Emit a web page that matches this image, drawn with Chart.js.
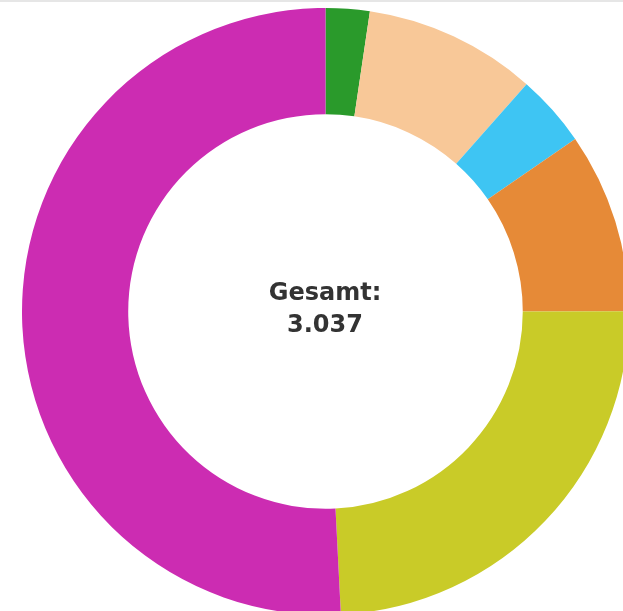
<!DOCTYPE html>
<html lang="de">
<head>
    <meta charset="UTF-8">
    <title>Gesamt</title>
    <script src="https://cdn.jsdelivr.net/npm/chart.js"></script>
    <style>
        html, body {
            margin: 0;
            padding: 0;
            width: 623px;
            height: 611px;
            overflow: hidden;
            background: #fff;
        }
        .top-rule {
            position: absolute;
            left: 0;
            top: 0;
            width: 623px;
            height: 2px;
            background: #e6e6e6;
        }
        .chart-wrap {
            position: absolute;
            left: 22px;
            top: 8px;
            width: 607px;
            height: 607px;
        }
        .center-label {
            position: absolute;
            left: 225px;
            top: 276px;
            width: 200px;
            text-align: center;
            font-family: "DejaVu Sans", sans-serif;
            font-weight: 700;
            font-size: 24px;
            line-height: 32px;
            color: #333;
        }
    </style>
</head>
<body>
    <div class="top-rule"></div>
    <div class="chart-wrap">
        <canvas id="totalDonut" width="607" height="607"></canvas>
    </div>
    <div class="center-label">Gesamt:<br>3.037</div>

    <script>
        // Segments, clockwise from the top
        const categories = ['A', 'B', 'C', 'D', 'E', 'F'];
        const counts = [71, 279, 117, 292, 735, 1543];
        const segmentColors = ['#2a9a2b', '#f8c898', '#3ec5f3', '#e68a37', '#c9cb28', '#cc2cb2'];

        const donutChart = new Chart(document.getElementById('totalDonut'), {
            type: 'doughnut',
            data: {
                labels: categories,
                datasets: [{
                    data: counts,
                    backgroundColor: segmentColors,
                    borderWidth: 0
                }]
            },
            options: {
                responsive: false,
                animation: false,
                cutout: '65%',
                layout: { padding: 0 },
                plugins: {
                    legend: { display: false },
                    tooltip: { enabled: false }
                }
            }
        });
    </script>
</body>
</html>
